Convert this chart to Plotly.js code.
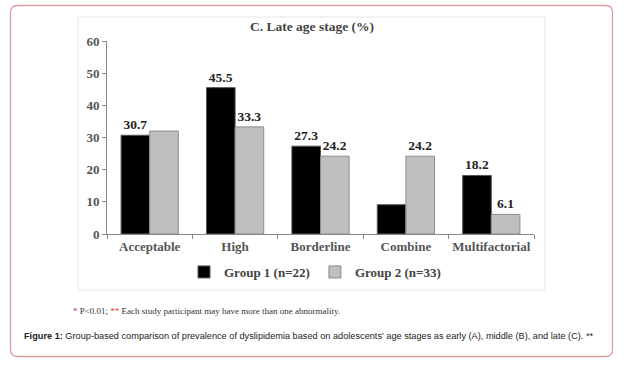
<!DOCTYPE html>
<html>
<head>
<meta charset="utf-8">
<script src="https://cdn.plot.ly/plotly-3.0.1.min.js"></script>
<style>html,body{margin:0;padding:0;background:#fff;}#chart{width:624px;height:365px;}</style>
</head>
<body>
<div id="chart"></div>
<script>
const categories = ["Acceptable", "High", "Borderline", "Combine", "Multifactorial"];
const group1Values = [30.7, 45.5, 27.3, 9.1, 18.2];
const group2Values = [32.0, 33.3, 24.2, 24.2, 6.1];
const group1Labels = ["30.7", "45.5", "27.3", "", "18.2"];
const group2Labels = ["", "33.3", "24.2", "24.2", "6.1"];
const seriesNames = ["Group 1 (n=22)", "Group 2 (n=33)"];
const yTicks = [0, 10, 20, 30, 40, 50, 60];

const serif = "Liberation Serif, Times New Roman, serif";
const W = 624, H = 365;
const ML = 107, MR = 90, MT = 41, MB = 131;
const plotW = W - ML - MR, plotH = H - MT - MB;
const toX = x => (x - ML) / plotW;
const toY = y => (H - MB - y) / plotH;

const traces = [
  {
    type: "bar", name: seriesNames[0], x: categories, y: group1Values,
    text: group1Labels, textposition: "outside", cliponaxis: false,
    textfont: {family: serif, size: 13.5, color: "#222", weight: "bold"},
    marker: {color: "#000000", line: {color: "#555555", width: 1}}
  },
  {
    type: "bar", name: seriesNames[1], x: categories, y: group2Values,
    text: group2Labels, textposition: "outside", cliponaxis: false,
    textfont: {family: serif, size: 13.5, color: "#222", weight: "bold"},
    marker: {color: "#bfbfbf", line: {color: "#8c8c8c", width: 1}}
  }
];

function roundedRect(x0, y0, x1, y1, r) {
  return "M" + toX(x0 + r) + "," + toY(y0) +
    " L" + toX(x1 - r) + "," + toY(y0) +
    " Q" + toX(x1) + "," + toY(y0) + " " + toX(x1) + "," + toY(y0 + r) +
    " L" + toX(x1) + "," + toY(y1 - r) +
    " Q" + toX(x1) + "," + toY(y1) + " " + toX(x1 - r) + "," + toY(y1) +
    " L" + toX(x0 + r) + "," + toY(y1) +
    " Q" + toX(x0) + "," + toY(y1) + " " + toX(x0) + "," + toY(y1 - r) +
    " L" + toX(x0) + "," + toY(y0 + r) +
    " Q" + toX(x0) + "," + toY(y0) + " " + toX(x0 + r) + "," + toY(y0) + " Z";
}

const layout = {
  width: W, height: H,
  paper_bgcolor: "#ffffff", plot_bgcolor: "#ffffff",
  margin: {l: ML, r: MR, t: MT, b: MB},
  bargap: 0.33, bargroupgap: 0,
  showlegend: true,
  title: {
    text: "C. Late age stage (%)",
    font: {family: serif, size: 13.5, color: "#444", weight: "bold"},
    x: 312 / W, xanchor: "center", xref: "container",
    y: 1 - 26 / H, yanchor: "middle", yref: "container"
  },
  xaxis: {
    type: "category", tickson: "boundaries", ticks: "outside", ticklen: 4,
    tickcolor: "#888", showline: true, linecolor: "#888", linewidth: 1,
    showgrid: false, zeroline: false, tickangle: 0, automargin: false,
    tickfont: {family: serif, size: 13, color: "#555", weight: "bold"}
  },
  yaxis: {
    range: [0, 60], tickvals: yTicks, ticks: "outside", ticklen: 4,
    tickcolor: "#888", showline: true, linecolor: "#888", linewidth: 1,
    showgrid: false, zeroline: false, automargin: false,
    tickfont: {family: serif, size: 13, color: "#555", weight: "bold"}
  },
  legend: {
    orientation: "h", x: 184 / W, xanchor: "left", xref: "container",
    y: 1 - 272 / H, yanchor: "middle", yref: "container",
    font: {family: serif, size: 13, color: "#444", weight: "bold"},
    itemwidth: 30, tracegroupgap: 0
  },
  shapes: [
    {type: "path", xref: "paper", yref: "paper", layer: "below",
     path: roundedRect(10.5, 5.5, 612.5, 356.5, 7),
     line: {color: "#dc9ea2", width: 1.3}},
    {type: "rect", xref: "paper", yref: "paper", layer: "below",
     x0: toX(78), x1: toX(545), y0: toY(17), y1: toY(290),
     line: {color: "#e6e6e6", width: 1}}
  ],
  annotations: [
    {
      text: "<span style='color:#d33'>*</span> P&lt;0.01; <span style='color:#d33'>**</span> Each study participant may have more than one abnormality.",
      xref: "paper", yref: "paper", x: toX(71), y: toY(311), xanchor: "left", yanchor: "middle",
      showarrow: false, font: {family: serif, size: 9, color: "#333"}
    },
    {
      text: "<b>Figure 1:</b> Group-based comparison of prevalence of dyslipidemia based on adolescents' age stages as early (A), middle (B), and late (C). **",
      xref: "paper", yref: "paper", x: toX(22), y: toY(336), xanchor: "left", yanchor: "middle",
      showarrow: false, font: {family: "Liberation Sans, Arial, sans-serif", size: 9.2, color: "#222"}
    }
  ]
};

Plotly.newPlot("chart", traces, layout, {displayModeBar: false, staticPlot: true});
</script>
</body>
</html>
